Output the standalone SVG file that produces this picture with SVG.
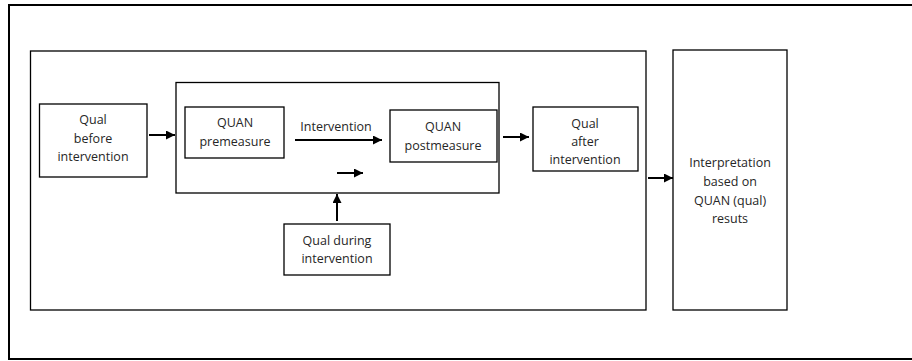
<svg xmlns="http://www.w3.org/2000/svg" width="912" height="361" viewBox="0 0 912 361">
<defs>
<marker id="ah" viewBox="0 0 10 10" refX="10" refY="5" markerWidth="9" markerHeight="9" markerUnits="userSpaceOnUse" orient="auto">
<path d="M0,0 L10,5 L0,10 z" fill="#000"/>
</marker>
<style>
.box{fill:#fff;stroke:#000;stroke-width:1.3}
.frame{fill:none;stroke:#000;stroke-width:2}
.t{font-family:"Open Sans","Liberation Sans",sans-serif;font-size:12.5px;fill:#262626;text-anchor:middle}
.c{stroke:#000;stroke-width:2;fill:none;marker-end:url(#ah)}
</style>
</defs>
<rect width="912" height="361" fill="#fff"/>
<g id="frame">
<path class="frame" d="M912,5 H9 V359 H912"/>
</g>
<g id="outer-box"><rect class="box" x="30.5" y="51" width="615.5" height="259"/></g>
<g id="inner-box"><rect class="box" x="176" y="82.5" width="323" height="110.5"/></g>
<g id="qual-before">
<rect class="box" x="39.5" y="104" width="107.5" height="73"/>
<text class="t" x="93" y="124">Qual</text>
<text class="t" x="93" y="143">before</text>
<text class="t" x="93" y="161">intervention</text>
</g>
<g id="quan-pre">
<rect class="box" x="185" y="107" width="99" height="51"/>
<text class="t" x="235" y="127">QUAN</text>
<text class="t" x="235" y="146">premeasure</text>
</g>
<g id="quan-post">
<rect class="box" x="390" y="110" width="107" height="52"/>
<text class="t" x="443" y="131">QUAN</text>
<text class="t" x="443" y="150">postmeasure</text>
</g>
<g id="qual-after">
<rect class="box" x="533" y="107" width="105" height="64"/>
<text class="t" x="585" y="128">Qual</text>
<text class="t" x="585" y="146">after</text>
<text class="t" x="585" y="164">intervention</text>
</g>
<g id="qual-during">
<rect class="box" x="284" y="224" width="106" height="51"/>
<text class="t" x="337" y="245">Qual during</text>
<text class="t" x="337" y="263">intervention</text>
</g>
<g id="interpretation">
<rect class="box" x="673" y="50" width="114" height="260"/>
<text class="t" x="730" y="167">Interpretation</text>
<text class="t" x="730" y="186">based on</text>
<text class="t" x="730" y="205">QUAN (qual)</text>
<text class="t" x="730" y="223">resuts</text>
</g>
<g id="connectors">
<line class="c" x1="149" y1="135" x2="175" y2="135"/>
<line class="c" x1="295" y1="140" x2="382" y2="140"/>
<text class="t" x="336" y="131">Intervention</text>
<line class="c" x1="337" y1="173" x2="363" y2="173"/>
<line class="c" x1="503" y1="137" x2="529" y2="137"/>
<line class="c" x1="648" y1="178" x2="673" y2="178"/>
<line class="c" x1="337" y1="221" x2="337" y2="194"/>
</g>
</svg>
